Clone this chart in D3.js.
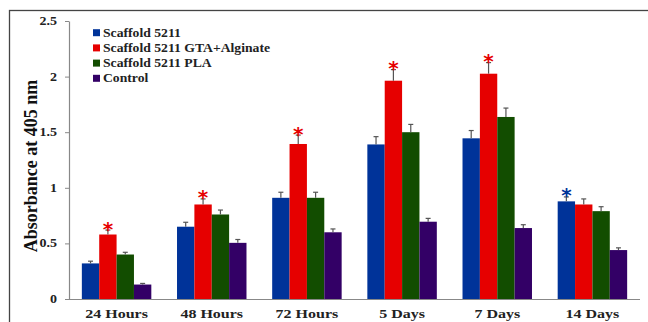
<!DOCTYPE html>
<html><head><meta charset="utf-8">
<script src="https://cdn.jsdelivr.net/npm/d3@7"></script>
<style>body{margin:0;background:#fff}svg{display:block}</style>
</head><body>
<svg id="c" width="648" height="322"></svg>
<script>
const categories = ["24 Hours","48 Hours","72 Hours","5 Days","7 Days","14 Days"];
const seriesNames = ["Scaffold 5211","Scaffold 5211 GTA+Alginate","Scaffold 5211 PLA","Control"];
const seriesColors = ["#003399","#e60000","#124d00","#330066"];
const scaffold = [0.32,0.65,0.91,1.39,1.445,0.878];
const gtaAlginate = [0.58,0.85,1.394,1.963,2.026,0.85];
const pla = [0.40,0.76,0.91,1.50,1.637,0.79];
const control = [0.13,0.505,0.60,0.695,0.638,0.44];
const errScaffold = [0.02,0.04,0.05,0.07,0.07,0.04];
const errGta = [0.04,0.05,0.08,0.10,0.10,0.05];
const errPla = [0.02,0.04,0.05,0.07,0.08,0.04];
const errControl = [0.01,0.03,0.03,0.03,0.03,0.02];
// significance markers: [category index, series index]
const stars = [[0,1],[1,1],[2,1],[3,1],[4,1],[5,0]];
const yTicks = [0,0.5,1,1.5,2,2.5];
const yTickLabels = ["0","0.5","1","1.5","2","2.5"];

const values = [scaffold,gtaAlginate,pla,control];
const errs = [errScaffold,errGta,errPla,errControl];

const svg = d3.select("#c");
const serif = "'Liberation Serif','Times New Roman',serif";
// outer frame
svg.append("rect").attr("x",9.5).attr("y",10.5).attr("width",700).attr("height",400)
  .attr("fill","none").attr("stroke","#444").attr("stroke-width",1.3);

const x0 = 69, x1 = 640, yTop = 21, yBot = 299;
const x = d3.scaleBand().domain(categories).range([x0,x1]).paddingInner(0.27).paddingOuter(0.135);
const xs = d3.scaleBand().domain(d3.range(4)).range([0,x.bandwidth()]);
const y = d3.scaleLinear().domain([0,2.5]).range([yBot,yTop]);

// y axis
const yAxis = d3.axisLeft(y).tickValues(yTicks).tickFormat(()=>"").tickSize(4).tickSizeOuter(0);
const gy = svg.append("g").attr("transform",`translate(${x0},0)`).call(yAxis);
gy.select(".domain").attr("stroke","#888").attr("stroke-width",1.2);
gy.selectAll(".tick line").attr("stroke","#888");
svg.append("g").selectAll("text").data(yTicks).join("text")
  .attr("transform",d=>`translate(57,${y(d)+4}) scale(1.22,1)`).attr("text-anchor","end")
  .attr("font-family",serif).attr("font-weight","bold").attr("font-size",11.5).attr("fill","#222")
  .text((d,i)=>yTickLabels[i]);

// x axis
svg.append("line").attr("x1",x0-3).attr("x2",x1).attr("y1",yBot+0.5).attr("y2",yBot+0.5).attr("stroke","#888").attr("stroke-width",1.2);
svg.append("g").selectAll("text").data(categories).join("text")
  .attr("transform",d=>`translate(${x(d)+x.bandwidth()/2},318) scale(1.28,1)`).attr("text-anchor","middle")
  .attr("font-family",serif).attr("font-weight","bold").attr("font-size",12.5).attr("fill","#222").text(d=>d);

// y title
svg.append("text").attr("transform","translate(37,166) rotate(-90)").attr("text-anchor","middle")
  .attr("font-family",serif).attr("font-weight","bold").attr("font-size",18).attr("fill","#111").text("Absorbance at 405 nm");

// bars
const barData = [];
categories.forEach((c,ci)=>values.forEach((s,si)=>barData.push({c,ci,si,v:s[ci],e:errs[si][ci]})));
svg.append("g").selectAll("rect").data(barData).join("rect")
  .attr("x",d=>x(d.c)+xs(d.si)).attr("width",xs.bandwidth())
  .attr("y",d=>y(d.v)).attr("height",d=>yBot-y(d.v))
  .attr("fill",d=>seriesColors[d.si]);

// error bars
const eg = svg.append("g").attr("stroke","#555").attr("stroke-width",1.2);
barData.forEach(d=>{
  const cx = x(d.c)+xs(d.si)+xs.bandwidth()/2;
  eg.append("line").attr("x1",cx).attr("x2",cx).attr("y1",y(d.v)).attr("y2",y(d.v+d.e));
  eg.append("line").attr("x1",cx-2.5).attr("x2",cx+2.5).attr("y1",y(d.v+d.e)).attr("y2",y(d.v+d.e));
});

// stars
svg.append("g").selectAll("text").data(stars).join("text")
  .attr("x",d=>x(categories[d[0]])+xs(d[1])+xs.bandwidth()/2)
  .attr("y",d=>y(values[d[1]][d[0]]+errs[d[1]][d[0]])+5.5)
  .attr("text-anchor","middle").attr("font-family","'DejaVu Sans',sans-serif").attr("font-weight","bold")
  .attr("font-size",20).attr("fill",d=>seriesColors[d[1]]).text("*");

// legend
const lg = svg.append("g");
seriesNames.forEach((n,i)=>{
  const ly = 32.7 + i*15.2;
  lg.append("rect").attr("x",93).attr("y",ly-3.5).attr("width",7).attr("height",7).attr("fill",seriesColors[i]);
  lg.append("text").attr("transform",`translate(103,${ly+4}) scale(1.14,1)`).attr("font-family",serif).attr("font-weight","bold")
    .attr("font-size",12).attr("fill","#222").text(n);
});
</script>
</body></html>
